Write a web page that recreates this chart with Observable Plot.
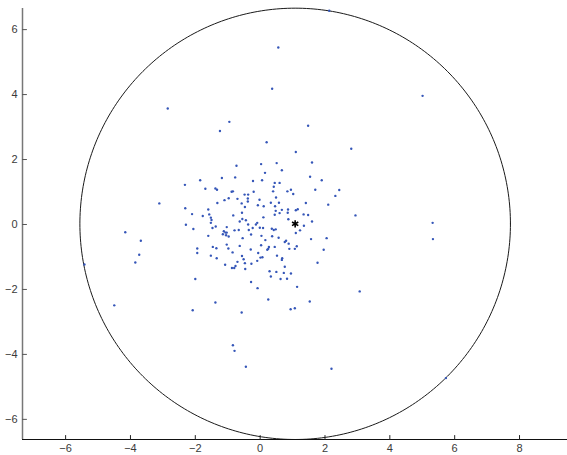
<!DOCTYPE html>
<html><head><meta charset="utf-8">
<script src="https://cdn.jsdelivr.net/npm/d3@7"></script>
<script src="https://cdn.jsdelivr.net/npm/@observablehq/plot@0.6"></script>
<style>body{margin:0;background:#fff;} #chart svg{display:block;}</style>
</head><body><div id="chart"></div>
<script>
// scattered sample values
const xs = [
  0.56,0.37,5.01,-2.85,-0.95,-1.24,1.48,0.20,2.81,1.10,
  1.60,0.03,0.51,-0.73,0.67,0.15,1.54,-0.77,-1.18,1.90,
  -0.22,0.06,-1.85,-2.32,0.45,0.60,0.42,-1.69,-1.38,-1.33,
  1.70,2.44,0.95,0.84,0.40,-0.88,-0.84,-0.20,1.02,-0.48,
  -0.37,2.32,0.49,-0.38,-0.97,-1.10,-0.02,-0.70,-0.38,-1.32,
  -3.11,0.33,0.58,1.41,-0.57,2.10,-0.07,0.11,-0.47,0.46,
  -2.31,-1.60,0.67,0.86,1.16,1.10,0.48,-0.56,0.60,0.85,
  -1.57,-2.10,0.45,1.34,1.48,2.94,-1.77,-0.83,0.10,-1.52,
  -1.50,0.87,-0.55,-0.44,1.60,-0.63,5.32,-1.52,-0.09,-0.13,-0.37,-2.29,
  1.35,-1.37,-1.03,-0.01,0.09,-0.23,-1.47,0.36,0.48,-2.06,
  -0.35,1.23,-0.79,-0.66,0.42,-1.12,-4.16,-1.07,-1.03,1.10,
  -1.15,-0.28,-1.05,0.37,0.04,-1.60,2.05,-0.97,0.57,-0.54,
  1.57,5.33,0.16,-3.68,0.80,0.76,-1.03,0.88,0.03,-0.63,
  1.13,0.27,0.45,-1.46,-1.35,-0.98,-1.94,0.25,1.07,0.90,
  -0.29,0.22,1.96,-1.94,-0.85,-0.06,-3.73,-1.52,-0.56,0.52,
  0.07,0.01,-1.34,0.68,-0.51,0.67,-0.09,-0.70,-3.85,1.77,
  -0.47,-0.27,-1.08,-0.76,0.76,-0.87,-0.80,-0.46,0.29,0.50,
  0.73,0.95,0.33,0.63,0.83,-2.00,-0.28,1.14,-0.08,3.07,
  0.25,1.53,-1.38,-4.50,1.07,0.94,-2.08,-0.57,-0.84,-0.79,-0.44,2.20,
  5.73,-5.42,2.13
];
const ys = [
  5.45,4.18,3.96,3.57,3.16,2.88,3.04,2.53,2.33,2.23,
  1.91,1.86,1.89,1.81,1.67,1.59,1.47,1.45,1.43,1.36,
  1.34,1.36,1.36,1.22,1.28,1.28,1.16,1.10,1.11,1.07,
  1.07,1.06,1.07,1.02,1.02,1.01,1.02,1.01,0.94,0.92,
  0.92,0.88,0.83,0.80,0.81,0.75,0.76,0.79,0.71,0.66,
  0.65,0.67,0.67,0.66,0.65,0.61,0.59,0.56,0.54,0.56,
  0.50,0.46,0.45,0.46,0.47,0.44,0.42,0.36,0.35,0.36,
  0.31,0.32,0.30,0.31,0.29,0.28,0.26,0.28,0.22,0.21,
  0.14,0.16,0.17,0.13,0.09,0.09,0.05,0.05,0.05,0.00,0.00,-0.01,
  -0.04,-0.06,-0.08,-0.10,-0.11,-0.11,-0.11,-0.13,-0.15,-0.14,
  -0.17,-0.18,-0.18,-0.17,-0.17,-0.21,-0.24,-0.25,-0.25,-0.26,
  -0.30,-0.31,-0.33,-0.36,-0.35,-0.35,-0.42,-0.37,-0.41,-0.42,
  -0.45,-0.45,-0.48,-0.50,-0.50,-0.54,-0.62,-0.59,-0.64,-0.66,
  -0.67,-0.69,-0.69,-0.69,-0.73,-0.74,-0.74,-0.75,-0.75,-0.75,
  -0.77,-0.78,-0.78,-0.88,-0.86,-0.88,-0.93,-0.96,-0.97,-0.96,
  -1.01,-1.02,-1.04,-1.04,-1.07,-1.09,-1.12,-1.15,-1.17,-1.18,
  -1.19,-1.21,-1.24,-1.28,-1.30,-1.34,-1.34,-1.37,-1.44,-1.46,
  -1.49,-1.51,-1.60,-1.68,-1.67,-1.68,-1.77,-1.92,-1.96,-2.06,
  -2.31,-2.37,-2.40,-2.49,-2.58,-2.61,-2.64,-2.71,-3.72,-3.89,-4.38,-4.44,
  -4.73,-1.23,6.58
];
// centre marker and enclosing circle
const centerX = [1.08];
const centerY = [0.02];
const circleRadius = [6.64];
// axes
const xDomain = [-7.33, 9.48];
const yDomain = [-6.62, 6.65];
const xTicks = [-6, -4, -2, 0, 2, 4, 6, 8];
const yTicks = [-6, -4, -2, 0, 2, 4, 6];

const points = xs.map((x, i) => ({x, y: ys[i]}));
const center = [{x: centerX[0], y: centerY[0]}];
const circle = d3.range(0, 361).map(a => ({
  x: centerX[0] + circleRadius[0] * Math.cos(a * Math.PI / 180),
  y: centerY[0] + circleRadius[0] * Math.sin(a * Math.PI / 180)
}));
const fmt = d3.format("d");
const tickShape = {draw(ctx, l) { ctx.moveTo(0, 0); ctx.lineTo(0, -l); }};

const chart = Plot.plot({
  width: 567, height: 455,
  marginLeft: 22, marginRight: 0, marginTop: 8, marginBottom: 16,
  x: {domain: xDomain},
  y: {domain: yDomain},
  style: {fontFamily: "'Liberation Sans', Arial, Helvetica, sans-serif", fontSize: "11px", color: "#3a3a3a", background: "#fff"},
  marks: [
    Plot.line(circle, {x: "x", y: "y", stroke: "#1a1a1a", strokeWidth: 1, clip: false}),
    Plot.dot(points, {x: "x", y: "y", r: 1.2, fill: "#3556b8", stroke: "none"}),
    Plot.dot(center, {x: "x", y: "y", symbol: "asterisk", r: 3.4, stroke: "#000", strokeWidth: 1.6}),
    Plot.ruleX([xDomain[0]], {stroke: "#777", strokeWidth: 1.5}),
    Plot.ruleY([yDomain[0]], {stroke: "#111", strokeWidth: 1}),
    Plot.vector(xTicks, {x: d => d, y: yDomain[0], length: 4, rotate: 0, anchor: "start", shape: tickShape, stroke: "#222", strokeWidth: 1}),
    Plot.vector(yTicks, {x: xDomain[0], y: d => d, length: 4, rotate: 90, anchor: "start", shape: tickShape, stroke: "#555", strokeWidth: 1}),
    Plot.axisX({ticks: xTicks, tickSize: 0, tickPadding: 5, tickFormat: fmt, label: null}),
    Plot.axisY({ticks: yTicks, tickSize: 0, tickPadding: 5, tickFormat: fmt, label: null})
  ]
});
document.getElementById("chart").appendChild(chart);
</script>
</body></html>
